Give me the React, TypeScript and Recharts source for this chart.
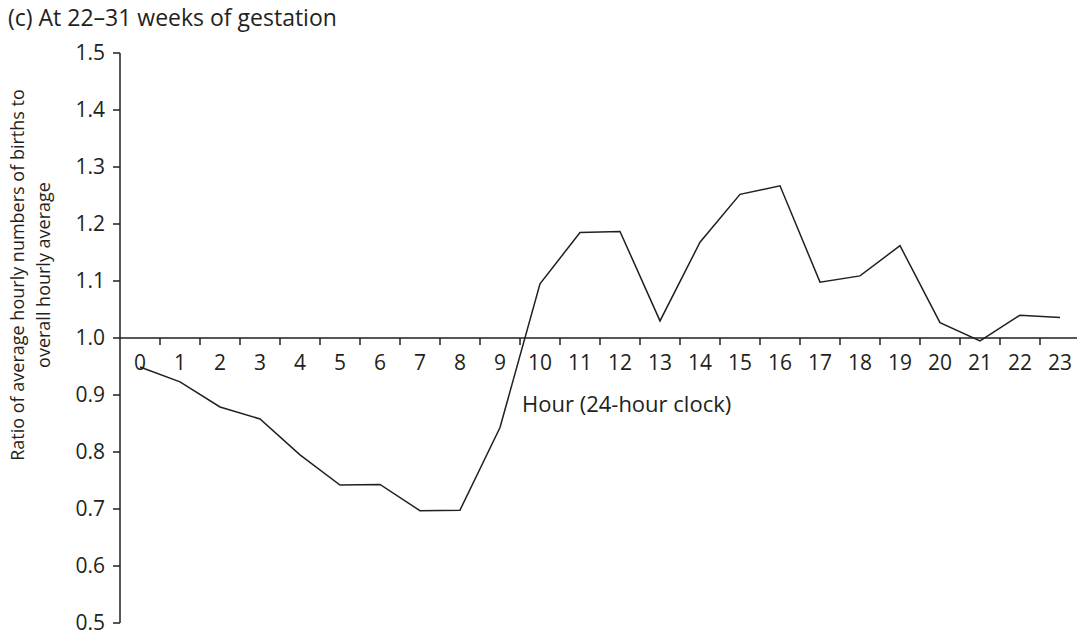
import React from 'react';
import { LineChart, Line, XAxis, YAxis, ReferenceLine } from 'recharts';

// hours of the day (categories)
const hours: number[] = [
  0, 1, 2, 3, 4, 5, 6, 7, 8, 9, 10, 11,
  12, 13, 14, 15, 16, 17, 18, 19, 20, 21, 22, 23,
];

// ratio of hourly births to overall hourly average
const ratio: number[] = [
  0.949, 0.923, 0.879, 0.858, 0.795, 0.742, 0.743, 0.697, 0.698, 0.843, 1.095, 1.185,
  1.187, 1.030, 1.168, 1.252, 1.267, 1.098, 1.109, 1.162, 1.027, 0.995, 1.040, 1.036,
];

const yTicks: number[] = [0.5, 0.6, 0.7, 0.8, 0.9, 1.0, 1.1, 1.2, 1.3, 1.4, 1.5];
const hourMarks: number[] = [
  0.5, 1.5, 2.5, 3.5, 4.5, 5.5, 6.5, 7.5, 8.5, 9.5, 10.5, 11.5,
  12.5, 13.5, 14.5, 15.5, 16.5, 17.5, 18.5, 19.5, 20.5, 21.5, 22.5, 23.5,
];

const title = '(c) At 22–31 weeks of gestation';
const yLabel1 = 'Ratio of average hourly numbers of births to';
const yLabel2 = 'overall hourly average';
const xLabel = 'Hour (24-hour clock)';

const data = hours.map((h, i) => ({ hour: h, ratio: ratio[i] }));

const INK = '#231f20';
const FONT = '"Open Sans", sans-serif';
const W = 1100;
const H = 638;
const MARGIN = { top: 53, right: 20, bottom: 5, left: 0 };
const X_AXIS_H = 5;
const Y_MIN = 0.5;
const Y_MAX = 1.5;
const Y_AXIS_W = 120;
const PLOT_H = H - MARGIN.top - MARGIN.bottom - 2 * X_AXIS_H;

// x axis crosses at ratio 1.0
const BASE = 1.0;
const yPix = (v: number) => MARGIN.top + ((Y_MAX - v) / (Y_MAX - Y_MIN)) * PLOT_H;
const AXIS_Y = yPix(BASE);

const HourTick = (props: any) => {
  const { x, payload } = props;
  return (
    <text x={x} y={AXIS_Y + 32} textAnchor="middle" fill={INK} fontSize={21} fontFamily={FONT}>
      {payload.value}
    </text>
  );
};

const MarkTick = (props: any) => {
  const { x } = props;
  return <line x1={x} x2={x} y1={AXIS_Y} y2={AXIS_Y + 7} stroke={INK} strokeWidth={1.5} />;
};

// two-line rotated y title, both lines centred on the same point
const YTitle = () => {
  const cy = yPix(BASE) - 63;
  return (
    <g fill={INK} fontSize={18} fontFamily={FONT}>
      <text transform={`translate(24, ${cy}) rotate(-90)`} textAnchor="middle">{yLabel1}</text>
      <text transform={`translate(50, ${cy}) rotate(-90)`} textAnchor="middle">{yLabel2}</text>
    </g>
  );
};

const App = () => {
  return (
    <div style={{ position: 'fixed', left: 0, top: 0, width: 1077, height: 638, overflow: 'hidden', background: '#fff' }}>
      <div style={{ position: 'absolute', left: 8, top: 1, fontFamily: FONT, fontSize: 23, color: INK }}>{title}</div>
      <LineChart width={W} height={H} data={data} margin={MARGIN}>
        <XAxis
          xAxisId="main"
          dataKey="hour"
          type="number"
          domain={[-0.5, 23.5]}
          ticks={hours}
          interval={0}
          axisLine={false}
          tickLine={false}
          height={X_AXIS_H}
          tick={HourTick}
        />
        <XAxis
          xAxisId="marks"
          dataKey="hour"
          type="number"
          domain={[-0.5, 23.5]}
          ticks={hourMarks}
          interval={0}
          axisLine={false}
          tickLine={false}
          height={X_AXIS_H}
          tick={MarkTick}
        />
        <YAxis
          yAxisId="y"
          type="number"
          domain={[Y_MIN, Y_MAX]}
          ticks={yTicks}
          interval={0}
          width={Y_AXIS_W}
          tickSize={7}
          tickMargin={8}
          tickFormatter={(v: number) => v.toFixed(1)}
          axisLine={{ stroke: INK, strokeWidth: 1.5 }}
          tickLine={{ stroke: INK, strokeWidth: 1.5 }}
          tick={{ fill: INK, fontSize: 21, fontFamily: FONT }}
        />
        <ReferenceLine xAxisId="main" yAxisId="y" y={BASE} stroke={INK} strokeWidth={1.5} />
        <Line
          xAxisId="main"
          yAxisId="y"
          type="linear"
          dataKey="ratio"
          stroke={INK}
          strokeWidth={1.5}
          dot={false}
          isAnimationActive={false}
        />
        <YTitle />
        <text x={522} y={AXIS_Y + 74} fill={INK} fontSize={22} fontFamily={FONT}>{xLabel}</text>
      </LineChart>
    </div>
  );
};

export default App;
